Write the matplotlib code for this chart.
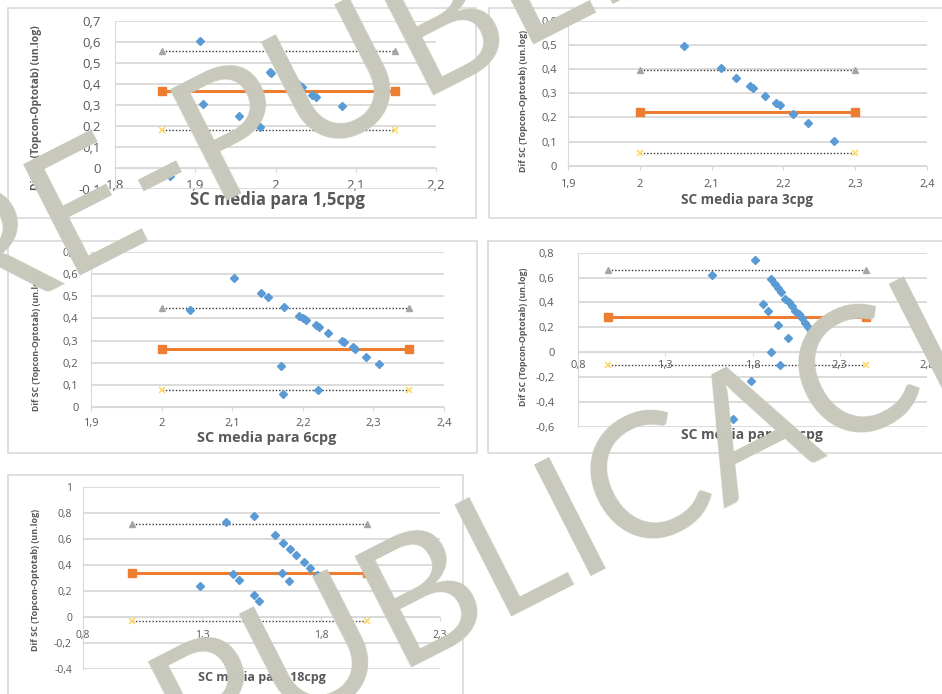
import matplotlib
matplotlib.use("Agg")
import matplotlib.pyplot as plt
from matplotlib.patches import Rectangle
from matplotlib.ticker import FuncFormatter, MultipleLocator

W, H = 942, 694
BLUE = "#5b9bd5"
ORANGE = "#ed7d31"
TRI = "#a5a5a5"
GOLD = "#ffd966"
GRID = "#d9d9d9"
TXT = "#595959"
WM = "#c8c9bc"

plt.rcParams['font.family'] = ['Open Sans', 'DejaVu Sans']

# mean contrast sensitivity (x) vs Topcon - Optotab difference (y)
x_15 = [1.869, 1.906, 1.910, 1.954, 1.981, 1.993, 1.995, 2.022, 2.028, 2.033, 2.045, 2.051, 2.083, 2.112]
d_15 = [-0.037, 0.606, 0.305, 0.248, 0.197, 0.459, 0.451, 0.411, 0.400, 0.387, 0.348, 0.338, 0.295, 0.233]

x_3 = [2.062, 2.113, 2.134, 2.153, 2.157, 2.174, 2.190, 2.195, 2.213, 2.234, 2.271]
d_3 = [0.497, 0.403, 0.361, 0.330, 0.320, 0.288, 0.258, 0.250, 0.214, 0.175, 0.102]

x_6 = [2.040, 2.103, 2.141, 2.150, 2.174, 2.169, 2.172, 2.195, 2.200, 2.204, 2.218, 2.223,
       2.236, 2.255, 2.258, 2.271, 2.274, 2.289, 2.308, 2.222]
d_6 = [0.438, 0.580, 0.513, 0.498, 0.450, 0.187, 0.058, 0.412, 0.400, 0.393, 0.370, 0.360,
       0.333, 0.300, 0.292, 0.270, 0.261, 0.228, 0.195, 0.079]

x_12 = [1.568, 1.815, 1.860, 1.889, 1.906, 1.928, 1.947, 1.966, 1.989, 2.008, 2.026, 2.045,
        2.064, 2.083, 2.102, 2.117, 2.136, 2.155, 1.947, 2.004, 1.904, 1.958, 1.794, 1.687]
d_12 = [0.619, 0.740, 0.384, 0.334, 0.586, 0.548, 0.518, 0.485, 0.430, 0.403, 0.375, 0.334,
        0.307, 0.274, 0.238, 0.205, 0.164, 0.129, 0.216, 0.115, 0.003, -0.104, -0.233, -0.537]

x_18 = [1.290, 1.399, 1.430, 1.455, 1.517, 1.517, 1.538, 1.605, 1.640, 1.637, 1.666, 1.671,
        1.696, 1.727, 1.755, 1.783, 1.811, 1.836, 1.860]
d_18 = [0.240, 0.733, 0.330, 0.281, 0.777, 0.171, 0.125, 0.631, 0.572, 0.337, 0.278, 0.521,
        0.478, 0.421, 0.375, 0.324, 0.268, 0.222, 0.176]

# bias, upper and lower limits of agreement, and the x span of those lines
lim_15, span_15 = (0.369, 0.557, 0.181), (1.859, 2.149)
lim_3, span_3 = (0.224, 0.396, 0.051), (2.0, 2.3)
lim_6, span_6 = (0.262, 0.445, 0.079), (2.0, 2.35)
lim_12, span_12 = (0.28, 0.66, -0.10), (0.974, 2.451)
lim_18, span_18 = (0.342, 0.715, -0.033), (1.007, 1.995)

# x tick positions
xt_15 = [1.8, 1.9, 2.0, 2.1, 2.2]
xt_3 = [1.9, 2.0, 2.1, 2.2, 2.3, 2.4]
xt_6 = [1.9, 2.0, 2.1, 2.2, 2.3, 2.4]
xt_12 = [0.8, 1.3, 1.8, 2.3, 2.8]
xt_18 = [0.8, 1.3, 1.8, 2.3]

ylabel = "Dif SC (Topcon-Optotab) (un.log)"
xlabels = ["SC media para 1,5cpg", "SC media para 3cpg", "SC media para 6cpg",
           "SC media para 12cpg", "SC media para 18cpg"]


def rect(x0, y0, x1, y1):
    return [x0 / W, 1 - y1 / H, (x1 - x0) / W, (y1 - y0) / H]


def comma(v, pos):
    s = f"{v:.1f}".rstrip("0").rstrip(".")
    if s == "-0":
        s = "0"
    return s.replace(".", ",")


panels = [
    dict(x=x_15, d=d_15, lim=lim_15, span=span_15, xt=xt_15, box=(8, 8, 476, 218), area=(115, 21, 436, 189),
         ylim=(-0.1, 0.7), ys=0.1, fs=9.5, xpad=5, ypad=10,
         tfs=12, tpos=(277, 200), yfs=7.5, ypos=(37, 108)),
    dict(x=x_3, d=d_3, lim=lim_3, span=span_3, xt=xt_3, box=(489, 8, 960, 218), area=(568, 20.7, 927, 165.7),
         ylim=(0, 0.6), ys=0.1, fs=8, xpad=6.5, ypad=8,
         tfs=9.8, tpos=(747, 200), yfs=6.5, ypos=(523, 101)),
    dict(x=x_6, d=d_6, lim=lim_6, span=span_6, xt=xt_6, box=(8, 241, 477, 453), area=(91, 251.7, 444, 407.3),
         ylim=(0, 0.7), ys=0.1, fs=8, xpad=5, ypad=9,
         tfs=10.4, tpos=(267, 438), yfs=6.3, ypos=(37, 342)),
    dict(x=x_12, d=d_12, lim=lim_12, span=span_12, xt=xt_12, box=(488, 241, 960, 453), area=(578, 252.7, 927, 426.7),
         ylim=(-0.6, 0.8), ys=0.2, fs=8, xpad=3, ypad=17,
         tfs=10, tpos=(752, 435), yfs=6.3, ypos=(523, 337)),
    dict(x=x_18, d=d_18, lim=lim_18, span=span_18, xt=xt_18, box=(8, 475, 463, 720), area=(83, 486.7, 440, 669.3),
         ylim=(-0.4, 1.0), ys=0.2, fs=7.5, xpad=6, ypad=8,
         tfs=9, tpos=(262, 678), yfs=6.5, ypos=(36, 580)),
]

fig = plt.figure(figsize=(W / 100, H / 100), dpi=100)
fig.patch.set_facecolor("white")

for p, xl in zip(panels, xlabels):
    bx0, by0, bx1, by1 = p["box"]
    fig.patches.append(Rectangle((bx0 / W, 1 - by1 / H), (bx1 - bx0) / W, (by1 - by0) / H,
                                 transform=fig.transFigure, fill=False, ec=GRID, lw=1.2))

    ax = fig.add_axes(rect(*p["area"]))
    ax.patch.set_alpha(0)
    ax.set_xlim(p["xt"][0], p["xt"][-1])
    ax.set_ylim(*p["ylim"])
    ax.set_xticks(p["xt"])
    ax.yaxis.set_major_locator(MultipleLocator(p["ys"]))
    ax.xaxis.set_major_formatter(FuncFormatter(comma))
    ax.yaxis.set_major_formatter(FuncFormatter(comma))
    ax.yaxis.grid(True, color=GRID, lw=1.3)
    ax.set_axisbelow(True)
    for s in ("top", "right"):
        ax.spines[s].set_visible(False)
    ax.spines["left"].set_color(GRID)
    ax.spines["bottom"].set_color(GRID)
    ax.spines["bottom"].set_position(("data", 0))
    ax.tick_params(axis="y", length=0, pad=p["ypad"], labelsize=p["fs"], labelcolor=TXT)
    ax.tick_params(axis="x", length=3, color=GRID, pad=p["xpad"], labelsize=p["fs"], labelcolor=TXT)

    m, up, lo = p["lim"]
    sx = list(p["span"])
    ax.plot(sx, [up, up], color="#3a3a3a", lw=1.0, ls=(0, (1, 1.4)), zorder=3)
    ax.plot(sx, [up, up], ls="none", marker="^", ms=4.5, color=TRI, zorder=3)
    ax.plot(sx, [lo, lo], color="#3a3a3a", lw=1.0, ls=(0, (1, 1.4)), zorder=3)
    ax.plot(sx, [lo, lo], ls="none", marker="x", ms=4.5, mew=1.2, color=GOLD, zorder=3)
    ax.plot(sx, [m, m], color=ORANGE, lw=2.2, marker="s", ms=5.5, zorder=3)
    ax.plot(p["x"], p["d"], ls="none", marker="D", ms=4, color=BLUE, zorder=4)

    tx, ty = p["tpos"]
    fig.text(tx / W, 1 - ty / H, xl, ha="center", va="center", fontsize=p["tfs"],
             weight="bold", color=TXT)
    yx, yy = p["ypos"]
    fig.text(yx / W, 1 - yy / H, ylabel, ha="center", va="center", rotation=90,
             fontsize=p["yfs"], weight="bold", color=TXT)

# diagonal watermark, two copies
for bx, by in [(-125, 372), (-147, 944)]:
    fig.text(bx / W, 1 - by / H, "PRE-PUBLICACIÓN", rotation=27, rotation_mode="anchor",
             ha="left", va="baseline", fontsize=125, family=["Lato", "DejaVu Sans"],
             weight="normal", color=WM, zorder=100)

fig.savefig("out.png", dpi=100)
